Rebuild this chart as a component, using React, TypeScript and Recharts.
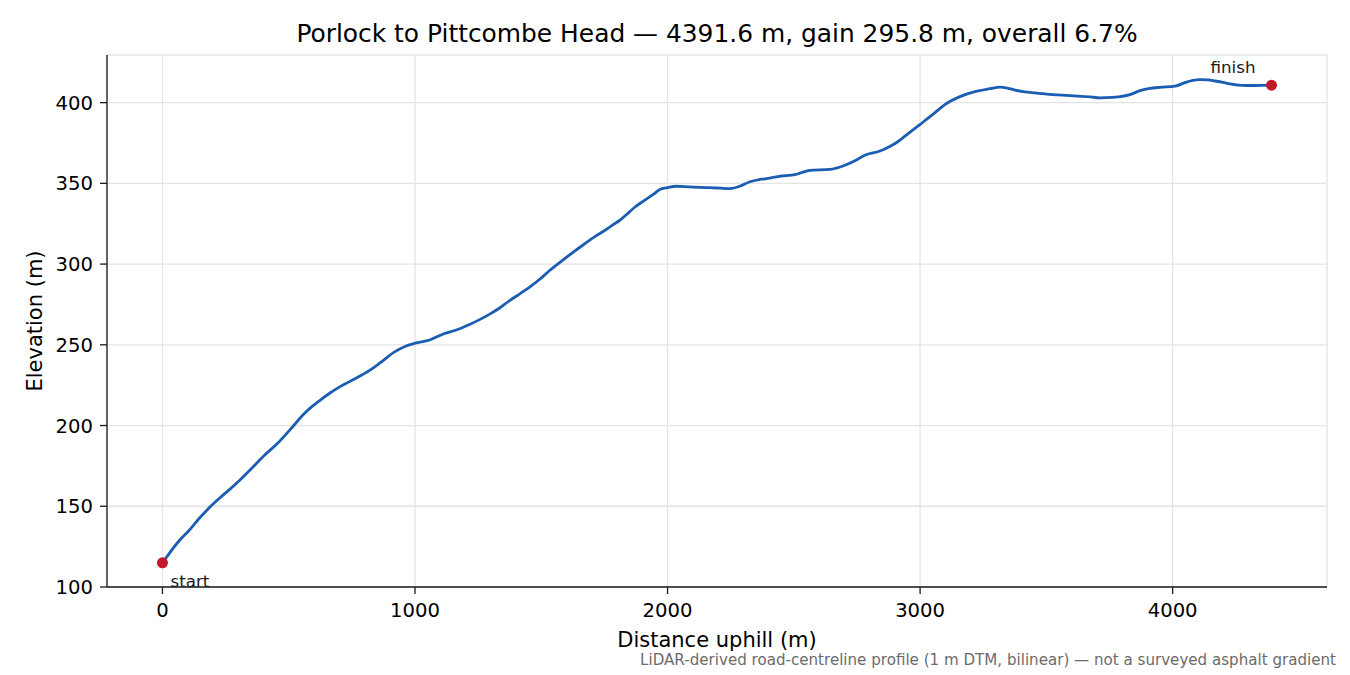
import React from 'react';
import {
  ComposedChart,
  Line,
  XAxis,
  YAxis,
  CartesianGrid,
  ReferenceDot,
} from 'recharts';

// road profile (distance m, elevation m)
const distance = [
  0, 30, 67, 105, 147, 190, 226, 265, 305, 345, 404, 456, 503, 563, 594, 625,
  662, 700, 741, 780, 820, 860, 919, 960, 1000, 1058, 1117, 1160, 1216, 1256,
  1296, 1335, 1375, 1415, 1454, 1494, 1533, 1593, 1632, 1672, 1712, 1751, 1790,
  1810, 1840, 1870, 1910, 1949, 1969, 2000, 2036, 2088, 2130, 2167, 2210, 2246,
  2286, 2326, 2365, 2405, 2445, 2504, 2530, 2563, 2643, 2702, 2740, 2781, 2841,
  2880, 2910, 2940, 2999, 3059, 3098, 3158, 3217, 3277, 3316, 3346, 3376, 3415,
  3455, 3494, 3545, 3594, 3673, 3712, 3760, 3792, 3831, 3871, 3910, 3950, 4010,
  4049, 4080, 4109, 4140, 4168, 4200, 4227, 4260, 4287, 4330, 4360, 4391.6,
];
const elevation = [
  115.0, 121.5, 128.8, 135.0, 142.7, 149.8, 155.0, 160.3, 166.0, 172.2, 181.6,
  189.0, 197.0, 207.6, 212.0, 215.8, 220.0, 223.8, 227.2, 230.5, 234.2, 238.6,
  245.6, 249.0, 251.0, 253.0, 257.0, 259.0, 262.6, 265.6, 269.0, 272.8, 277.4,
  281.6, 285.8, 290.6, 296.0, 303.4, 308.0, 312.6, 317.0, 320.8, 325.0, 327.0,
  331.0, 335.2, 339.6, 343.8, 346.2, 347.4, 348.2, 347.8, 347.5, 347.3, 347.0,
  346.8, 348.2, 351.0, 352.4, 353.2, 354.4, 355.4, 356.6, 358.0, 358.6, 361.2,
  363.8, 367.4, 370.0, 372.8, 375.6, 379.2, 386.4, 393.8, 398.8, 403.7, 406.8,
  408.6, 409.6, 409.0, 407.8, 406.6, 406.0, 405.4, 404.8, 404.3, 403.6, 403.0,
  403.2, 403.7, 405.0, 407.4, 408.8, 409.5, 410.2, 412.4, 413.8, 414.2, 414.1,
  413.4, 412.5, 411.6, 410.9, 410.6, 410.6, 410.7, 410.8,
];

const xTicks = [0, 1000, 2000, 3000, 4000];
const yTicks = [100, 150, 200, 250, 300, 350, 400];

const title = 'Porlock to Pittcombe Head \u2014 4391.6 m, gain 295.8 m, overall 6.7%';
const footnote =
  'LiDAR-derived road-centreline profile (1 m DTM, bilinear) \u2014 not a surveyed asphalt gradient';

const data = distance.map((d, i) => ({ d, e: elevation[i] }));
const first = data[0];
const last = data[data.length - 1];

const FONT = '"DejaVu Sans", sans-serif';
const LINE = '#1b5db3';
const MARK = '#c21a2b';
const SPINE = '#1a1a1a';

const tickStyle = { fontSize: 19.6, fill: '#000', fontFamily: FONT };

const dotLabel = (text: string, dx: number, dy: number, anchor: string) => (p: any) => {
  const vb = p.viewBox || {};
  const cx = (vb.x ?? 0) + (vb.width ?? 0) / 2;
  const cy = (vb.y ?? 0) + (vb.height ?? 0) / 2;
  return (
    <text x={cx + dx} y={cy + dy} textAnchor={anchor} fontSize={16.7} fontFamily={FONT} fill="#1a1a1a">
      {text}
    </text>
  );
};

export default function App() {
  return (
    <div style={{ position: 'absolute', left: 0, top: 0, width: 1350, height: 675, background: '#fff' }}>
      <svg width={1350} height={675} style={{ position: 'absolute', left: 0, top: 0 }}>
        <text x={717} y={42} textAnchor="middle" fontSize={24.9} fontFamily={FONT} fill="#000">
          {title}
        </text>
        <text x={717} y={647} textAnchor="middle" fontSize={21} fontFamily={FONT} fill="#000">
          Distance uphill (m)
        </text>
        <text
          x={42}
          y={321}
          textAnchor="middle"
          fontSize={21}
          fontFamily={FONT}
          fill="#000"
          transform="rotate(-90 42 321)"
        >
          Elevation (m)
        </text>
        <text x={1336} y={665} textAnchor="end" fontSize={15.1} fontFamily={FONT} fill="#6b6b6b">
          {footnote}
        </text>
      </svg>
      <div style={{ position: 'absolute', left: 0, top: 0 }}>
        <ComposedChart
          width={1350}
          height={675}
          data={data}
          margin={{ top: 55, right: 23, bottom: 58, left: 47 }}
        >
          <CartesianGrid stroke="#e4e4e4" strokeWidth={1.3} />
          <XAxis
            dataKey="d"
            type="number"
            domain={[-219.6, 4611.2]}
            ticks={xTicks}
            allowDataOverflow
            height={30}
            tickSize={7}
            tickMargin={9}
            tick={tickStyle}
            axisLine={{ stroke: SPINE, strokeWidth: 1.3 }}
            tickLine={{ stroke: SPINE, strokeWidth: 1.3 }}
          />
          <XAxis
            xAxisId="top"
            orientation="top"
            dataKey="d"
            type="number"
            domain={[-219.6, 4611.2]}
            height={0}
            tick={false}
            tickLine={false}
            axisLine={{ stroke: SPINE, strokeWidth: 1.3 }}
          />
          <YAxis
            type="number"
            domain={[100, 429.5]}
            ticks={yTicks}
            allowDataOverflow
            width={60}
            tickSize={7}
            tickMargin={7}
            tick={tickStyle}
            axisLine={{ stroke: SPINE, strokeWidth: 1.3 }}
            tickLine={{ stroke: SPINE, strokeWidth: 1.3 }}
          />
          <YAxis
            yAxisId="right"
            orientation="right"
            type="number"
            domain={[100, 429.5]}
            width={0}
            tick={false}
            tickLine={false}
            axisLine={{ stroke: SPINE, strokeWidth: 1.3 }}
          />
          <Line
            type="monotone"
            dataKey="e"
            stroke={LINE}
            strokeWidth={2.8}
            dot={false}
            activeDot={false}
            isAnimationActive={false}
          />
          <ReferenceDot
            x={first.d}
            y={first.e}
            r={5.5}
            fill={MARK}
            stroke="none"
            label={dotLabel('start', 8, 24, 'start')}
          />
          <ReferenceDot
            x={last.d}
            y={last.e}
            r={5.5}
            fill={MARK}
            stroke="none"
            label={dotLabel('finish', -16, -12.5, 'end')}
          />
        </ComposedChart>
      </div>
    </div>
  );
}
